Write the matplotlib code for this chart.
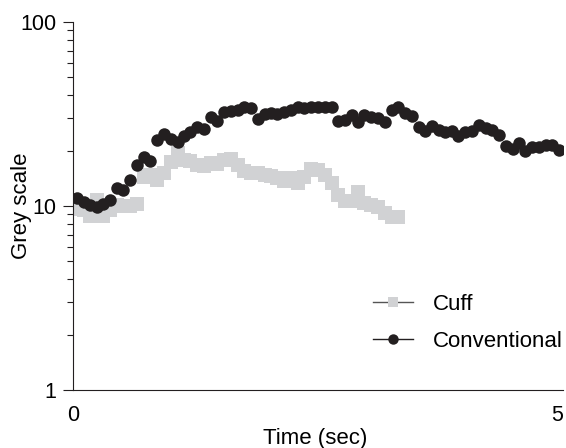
import matplotlib
matplotlib.use("Agg")
import matplotlib.pyplot as plt
from matplotlib.lines import Line2D

plt.rcParams['font.family'] = ['Liberation Sans', 'DejaVu Sans']

# time of each frame (sec)
conv_t = [0.04, 0.11, 0.18, 0.25, 0.31, 0.38, 0.45, 0.52, 0.59, 0.66,
          0.73, 0.80, 0.87, 0.94, 1.01, 1.08, 1.15, 1.21, 1.28, 1.35,
          1.42, 1.49, 1.56, 1.63, 1.70, 1.77, 1.84, 1.91, 1.98, 2.04,
          2.11, 2.18, 2.25, 2.32, 2.39, 2.46, 2.53, 2.60, 2.67, 2.74,
          2.81, 2.88, 2.94, 3.01, 3.08, 3.15, 3.22, 3.29, 3.36, 3.43,
          3.50, 3.57, 3.64, 3.71, 3.78, 3.84, 3.91, 3.98, 4.05, 4.12,
          4.19, 4.26, 4.33, 4.40, 4.47, 4.54, 4.61, 4.67, 4.74, 4.81,
          4.88, 4.95, 5.02]
conv_grey = [11.0, 10.5, 10.1, 9.84, 10.3, 10.8, 12.6, 12.2, 13.9, 16.7,
             18.5, 17.6, 22.8, 24.5, 23.0, 22.4, 24.0, 25.3, 27.0, 26.1,
             30.6, 29.1, 32.5, 33.0, 33.2, 34.7, 34.0, 29.6, 31.6, 31.9,
             31.6, 32.5, 33.2, 34.4, 34.0, 34.7, 34.7, 34.7, 34.4, 29.0,
             29.3, 31.2, 28.7, 31.2, 30.6, 30.0, 28.6, 33.2, 34.7, 31.9,
             30.8, 26.9, 25.6, 27.2, 25.9, 25.2, 25.7, 24.0, 25.3, 25.6,
             27.4, 26.4, 25.9, 24.3, 21.2, 20.4, 22.1, 19.9, 20.9, 20.8,
             21.5, 21.5, 20.2]

cuff_t = conv_t[:49]
cuff_grey = [9.63, 9.51, 8.82, 10.8, 8.82, 9.51, 10.1, 10.0, 10.0, 10.3,
             14.4, 14.7, 13.9, 15.1, 17.3, 19.3, 17.8, 17.6, 16.7, 16.5,
             17.1, 16.9, 17.8, 18.1, 16.7, 15.5, 15.1, 15.1, 14.7, 14.5,
             14.2, 13.7, 14.2, 13.3, 14.4, 15.8, 15.7, 14.7, 13.3, 11.5,
             10.7, 10.7, 11.9, 10.4, 10.1, 9.88, 9.16, 8.71, 8.66]

black = '#231f20'
light = '#d1d2d4'

fig = plt.figure(figsize=(5.66, 4.48), dpi=100)
ax = fig.add_axes([73/566, 58/448, 490/566, 368/448])

ax.plot(cuff_t, cuff_grey, 's', color=light, markersize=9.4, markeredgewidth=0, zorder=2)
ax.plot(conv_t, conv_grey, 'o', color=black, markersize=9.0, markeredgewidth=0, zorder=3)

ax.set_yscale('log')
ax.set_ylim(1, 100)
ax.set_xlim(0, 5.06)
ax.set_xticks([0, 5])
ax.set_yticks([1, 10, 100])
ax.set_yticklabels(['1', '10', '100'])

for s in ['top', 'right']:
    ax.spines[s].set_visible(False)
for s in ['left', 'bottom']:
    ax.spines[s].set_linewidth(0.8)
    ax.spines[s].set_color(black)

ax.tick_params(axis='y', which='major', length=7.2, width=0.8, color=black, labelsize=15.5, pad=5)
ax.tick_params(axis='y', which='minor', length=4.3, width=0.8, color=black)
ax.tick_params(axis='x', length=0, labelsize=15.5, pad=11)

ax.set_xlabel('Time (sec)', fontsize=16)
ax.xaxis.set_label_coords(2.5/5.06, -0.102)
ax.set_ylabel('Grey scale', fontsize=16)
ax.yaxis.set_label_coords(-0.084, 0.5)

handles = [Line2D([], [], color='#555555', lw=1, marker='s', markersize=7.2,
                  markerfacecolor=light, markeredgewidth=0),
           Line2D([], [], color=black, lw=1, marker='o', markersize=7.5,
                  markerfacecolor=black, markeredgewidth=0)]
ax.legend(handles, ['Cuff', 'Conventional'], frameon=False, fontsize=16,
          loc='upper left', bbox_to_anchor=(0.612, 0.261), borderpad=0,
          borderaxespad=0, handlelength=1.8, handletextpad=0.9, labelspacing=0.73)

fig.savefig('out.png', dpi=100)
